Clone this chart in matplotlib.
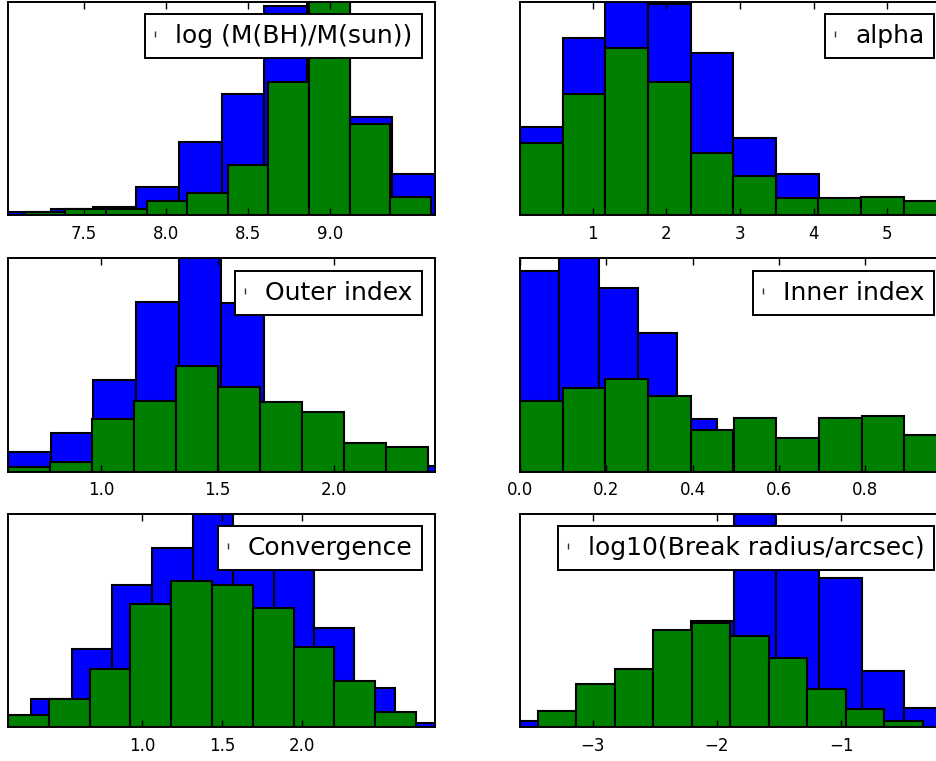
import numpy as np
import matplotlib
matplotlib.use('Agg')
import matplotlib.pyplot as plt
from matplotlib.lines import Line2D

plt.style.use('classic')
plt.rcParams['font.family'] = ['DejaVu Sans']

# ---- data (bar heights, in % of panel height; >100 are clipped) ----
labels = ["log (M(BH)/M(sun))", "alpha", "Outer index",
          "Inner index", "Convergence", "log10(Break radius/arcsec)"]

bh_blue_range = (7.038, 9.640)
bh_blue = [1.5, 2.8, 3.9, 13.3, 34.4, 56.6, 98.0, 112.0, 46.0, 19.2]
bh_green_range = (7.140, 9.614)
bh_green = [1.3, 2.7, 2.7, 6.6, 10.2, 23.4, 62.5, 112.0, 42.7, 8.6]
bh_ticks = [7.5, 8.0, 8.5, 9.0]

alpha_blue_range = (0.013, 5.81)
alpha_blue = [41.1, 83.1, 112.0, 98.8, 76.1, 35.9, 19.2, 6.0, 5.0, 4.0]
alpha_green_range = (0.013, 5.80)
alpha_green = [33.6, 56.6, 78.1, 62.5, 29.2, 18.4, 7.8, 7.8, 8.6, 6.6]
alpha_ticks = [1, 2, 3, 4, 5]

outer_blue_range = (0.598, 2.434)
outer_blue = [9.3, 18.1, 42.9, 79.5, 112.0, 78.8, 25.0, 12.0, 8.0, 2.6]
outer_green_range = (0.598, 2.403)
outer_green = [2.3, 4.5, 24.8, 33.2, 49.6, 39.7, 32.6, 28.1, 13.6, 11.6]
outer_ticks = [1.0, 1.5, 2.0]

inner_blue_range = (0.0, 0.911)
inner_blue = [93.8, 112.0, 86.0, 64.9, 24.6, 15.0, 12.0, 10.0, 12.0, 10.0]
inner_green_range = (0.0, 0.989)
inner_green = [33.1, 39.2, 43.5, 35.3, 19.4, 25.2, 16.0, 25.2, 26.1, 17.1]
inner_ticks = [0.0, 0.2, 0.4, 0.6, 0.8]

conv_blue_range = (0.310, 2.827)
conv_blue = [13.3, 36.6, 66.4, 83.7, 112.0, 73.8, 73.8, 46.6, 18.1, 2.0]
conv_green_range = (0.164, 2.708)
conv_green = [5.5, 12.9, 27.2, 57.8, 68.3, 66.4, 55.7, 37.7, 21.5, 7.1]
conv_ticks = [1.0, 1.5, 2.0]

brk_blue_range = (-3.585, -0.148)
brk_blue = [2.8, 4.0, 10.0, 15.0, 49.8, 112.0, 89.0, 69.9, 26.3, 9.1]
brk_green_range = (-3.443, -0.342)
brk_green = [7.5, 20.1, 27.1, 45.6, 48.6, 42.8, 32.1, 17.7, 8.6, 2.8]
brk_ticks = [-3, -2, -1]

panels = [
    (bh_blue_range, bh_blue, bh_green_range, bh_green, bh_ticks),
    (alpha_blue_range, alpha_blue, alpha_green_range, alpha_green, alpha_ticks),
    (outer_blue_range, outer_blue, outer_green_range, outer_green, outer_ticks),
    (inner_blue_range, inner_blue, inner_green_range, inner_green, inner_ticks),
    (conv_blue_range, conv_blue, conv_green_range, conv_green, conv_ticks),
    (brk_blue_range, brk_blue, brk_green_range, brk_green, brk_ticks),
]

fig = plt.figure(figsize=(9.37, 7.61), dpi=100, facecolor='white')

col_x = [8 / 937, 520 / 937]
row_y = [0.7175, 0.3802, 0.0447]
w = 427 / 937
h = 0.2805


def draw(ax, rng, vals, color):
    edges = np.linspace(rng[0], rng[1], len(vals) + 1)
    centers = 0.5 * (edges[:-1] + edges[1:])
    ax.hist(centers, bins=edges, weights=vals, color=color,
            edgecolor='black', linewidth=1.5)


for i, (br, bv, gr, gv, ticks) in enumerate(panels):
    r, c = divmod(i, 2)
    ax = fig.add_axes([col_x[c], row_y[r], w, h])
    ax.set_facecolor('white')
    draw(ax, br, bv, 'b')
    draw(ax, gr, gv, 'g')
    ax.set_xlim(min(br[0], gr[0]), max(br[1], gr[1]))
    ax.set_ylim(0, 100)
    ax.set_yticks([])
    ax.set_xticks(ticks)
    for sp in ax.spines.values():
        sp.set_linewidth(1.4)
    ax.tick_params(axis='x', labelsize=12, direction='in', top=True,
                   bottom=True, length=5, width=1.0, pad=7)
    handle = Line2D([], [], linestyle='none', marker='|', markersize=5,
                    markeredgewidth=1.0, color='#333333')
    leg = ax.legend([handle], [labels[i]], loc='upper right', numpoints=1,
                    fontsize=18, handlelength=0, handletextpad=0.8,
                    borderpad=0.4, borderaxespad=0.5, fancybox=False,
                    framealpha=1.0, edgecolor='black')
    leg.get_frame().set_linewidth(1.4)

fig.savefig('out.png', dpi=100, facecolor='white')
